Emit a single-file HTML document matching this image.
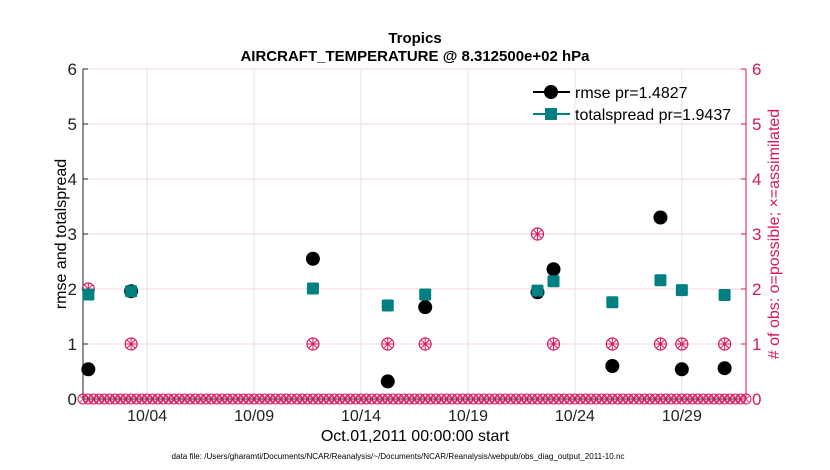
<!DOCTYPE html>
<html><head><meta charset="utf-8"><style>
body{margin:0;background:#fff;}
svg{display:block;font-family:"Liberation Sans",sans-serif;}
</style></head><body>
<svg id="chart" width="830" height="470"></svg>
<script>
const binDays=[0.25,2.25,10.75,14.25,16.0,21.25,22.0,24.75,27.0,28.0,30.0];
const rmseVals=[0.54,1.96,2.55,0.32,1.67,1.94,2.36,0.60,3.30,0.54,0.56];
const spreadVals=[1.90,1.96,2.01,1.70,1.90,1.97,2.14,1.76,2.16,1.98,1.89];
const obsCounts=[2,1,1,1,1,3,1,1,1,1,1];
const xTickDays=[3,8,13,18,23,28];
const xTickLabels=["10/04","10/09","10/14","10/19","10/24","10/29"];
const yTicks=[0,1,2,3,4,5,6];

const NS="http://www.w3.org/2000/svg";
const svg=document.getElementById('chart');
const L=83,R=746,T=69,B=399;
const xs=d=>L+(d/31)*(R-L);
const ys=v=>B-(v/6)*(B-T);
const CR="#d6175e",TE="#008080";
function mk(tag,a,parent){const e=document.createElementNS(NS,tag);for(const k in a)e.setAttribute(k,a[k]);(parent||svg).appendChild(e);return e;}
function txt(s,a){const e=mk('text',a);e.textContent=s;return e;}

yTicks.forEach(v=>{const g=mk('line',{x1:L,x2:R,y1:ys(v),y2:ys(v),stroke:"#f7d3e0","stroke-width":1});
});
xTickDays.forEach(d=>{const g=mk('line',{x1:xs(d),x2:xs(d),y1:T,y2:B,stroke:"#e2e2e2","stroke-width":1});
});

let ax=mk('line',{x1:L,x2:L,y1:T,y2:B,stroke:"#222","stroke-width":1});

ax=mk('line',{x1:R,x2:R,y1:T,y2:B,stroke:CR,"stroke-width":1});

ax=mk('line',{x1:L,x2:R,y1:B,y2:B,stroke:"#222","stroke-width":1});


yTicks.forEach(v=>{
  let t=txt(String(v),{x:L-6,y:ys(v)+6,"text-anchor":"end","font-size":17,fill:"#222"});
  
  mk('line',{x1:L,x2:L+5,y1:ys(v),y2:ys(v),stroke:"#222"});
  t=txt(String(v),{x:R+6,y:ys(v)+6,"font-size":17,fill:CR});
  
  mk('line',{x1:R-5,x2:R,y1:ys(v),y2:ys(v),stroke:CR});
});
xTickDays.forEach((d,i)=>{
  const t=txt(xTickLabels[i],{x:xs(d),y:B+22,"text-anchor":"middle","font-size":16,fill:"#222"});
  
});

for(let d=0;d<=31.001;d+=0.25){
  const g=mk('g',{});
  
  const x=xs(d),y=ys(0);
  mk('circle',{cx:x,cy:y,r:5,fill:"none",stroke:CR,"stroke-width":1},g);
  mk('path',{d:`M${x-3} ${y-3}L${x+3} ${y+3}M${x-3} ${y+3}L${x+3} ${y-3}`,stroke:CR,"stroke-width":0.8},g);
}
binDays.forEach((d,i)=>{
  const g=mk('g',{});
  
  const x=xs(d),y=ys(obsCounts[i]);
  mk('circle',{cx:x,cy:y,r:6,fill:"none",stroke:CR,"stroke-width":1.2},g);
  mk('path',{d:`M${x-6} ${y}L${x+6} ${y}M${x} ${y-6}L${x} ${y+6}M${x-4} ${y-4}L${x+4} ${y+4}M${x-4} ${y+4}L${x+4} ${y-4}`,stroke:CR,"stroke-width":1},g);
});
binDays.forEach((d,i)=>{
  const c=mk('circle',{cx:xs(d),cy:ys(rmseVals[i]),r:7,fill:"#000"});
  
});
binDays.forEach((d,i)=>{
  const c=mk('rect',{x:xs(d)-6,y:ys(spreadVals[i])-6,width:12,height:12,rx:1.5,fill:TE});
  
});

const lg=mk('g',{});
mk('line',{x1:533,x2:570,y1:92,y2:92,stroke:"#000","stroke-width":2},lg);
mk('circle',{cx:551,cy:92,r:7,fill:"#000"},lg);
let t=mk('text',{x:575,y:98,"font-size":16,fill:"#000"},lg);t.textContent="rmse pr=1.4827";

mk('line',{x1:533,x2:570,y1:114,y2:114,stroke:TE,"stroke-width":2},lg);
mk('rect',{x:545,y:108,width:12,height:12,fill:TE},lg);
t=mk('text',{x:575,y:120,"font-size":16,fill:"#000"},lg);t.textContent="totalspread pr=1.9437";


t=txt("Tropics",{x:415,y:43,"text-anchor":"middle","font-size":15,"font-weight":"bold"});

t=txt("AIRCRAFT_TEMPERATURE @ 8.312500e+02 hPa",{x:415,y:61,"text-anchor":"middle","font-size":15,"font-weight":"bold"});

t=txt("rmse and totalspread",{x:0,y:0,"text-anchor":"middle","font-size":16,transform:"translate(66,234) rotate(-90)"});

t=txt("# of obs: o=possible; \u00d7=assimilated",{x:0,y:0,"text-anchor":"middle","font-size":16,fill:CR,transform:"translate(779,234) rotate(-90)"});

t=txt("Oct.01,2011 00:00:00 start",{x:415,y:441,"text-anchor":"middle","font-size":16});

t=txt("data file: /Users/gharamti/Documents/NCAR/Reanalysis/~/Documents/NCAR/Reanalysis/webpub/obs_diag_output_2011-10.nc",{x:398,y:459,"text-anchor":"middle","font-size":8,textLength:453,lengthAdjust:"spacingAndGlyphs"});

</script>
</body></html>
